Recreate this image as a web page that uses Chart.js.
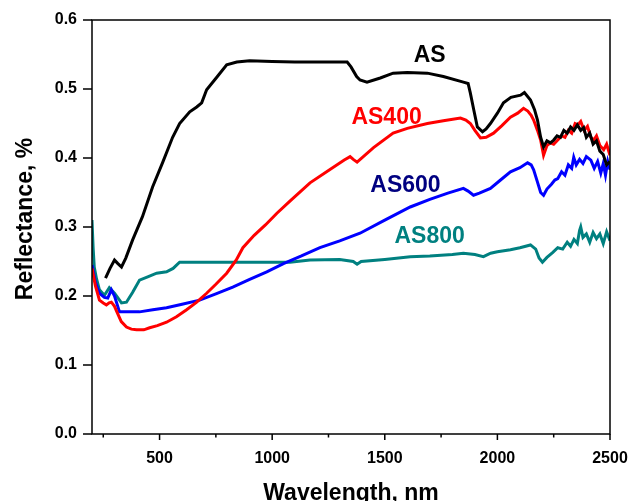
<!DOCTYPE html>
<html>
<head>
<meta charset="utf-8">
<script src="https://cdn.jsdelivr.net/npm/chart.js@4.4.1/dist/chart.umd.min.js"></script>
<style>
  html, body { margin: 0; padding: 0; background: #fff; }
  #wrap { width: 630px; height: 501px; }
</style>
</head>
<body>
<div id="wrap"><canvas id="chart" width="630" height="501"></canvas></div>
<script>
// ======= Data =======
const xTicks = [500, 1000, 1500, 2000, 2500];
const xMinor = [250, 750, 1250, 1750, 2250];
const yTicks = [0, 0.1, 0.2, 0.3, 0.4, 0.5, 0.6];

const asWl  = [260,280,300,315,331,350,380,424,469,513,558,589,634,665,687,709,754,798,843,900,1000,1100,1200,1300,1333,1350,1375,1390,1421,1480,1537,1600,1689,1760,1849,1870,1880,1895,1911,1934,1950,1969,2000,2027,2060,2103,2120,2147,2165,2178,2192,2205,2220,2235,2250,2265,2280,2295,2310,2325,2340,2355,2370,2383,2395,2410,2425,2440,2455,2470,2485,2500];
const asVal = [0.226,0.24,0.252,0.247,0.242,0.255,0.281,0.315,0.358,0.393,0.43,0.45,0.467,0.474,0.48,0.499,0.517,0.535,0.539,0.541,0.540,0.539,0.539,0.539,0.539,0.532,0.518,0.513,0.51,0.516,0.523,0.524,0.523,0.518,0.51,0.508,0.494,0.47,0.445,0.438,0.442,0.45,0.465,0.48,0.488,0.491,0.495,0.484,0.47,0.455,0.43,0.416,0.425,0.422,0.426,0.432,0.43,0.44,0.436,0.445,0.44,0.448,0.44,0.444,0.43,0.436,0.42,0.425,0.41,0.405,0.39,0.395];

const as400Wl  = [200,215,233,250,264,276,286,300,313,330,353,375,398,430,456,490,531,575,620,665,709,750,798,840,870,920,970,1021,1080,1168,1250,1320,1346,1360,1377,1450,1537,1600,1689,1760,1836,1860,1880,1900,1925,1950,1983,2020,2058,2090,2116,2135,2150,2161,2178,2192,2205,2220,2235,2250,2268,2285,2300,2315,2330,2345,2357,2370,2385,2400,2415,2428,2440,2455,2472,2485,2500];
const as400Val = [0.24,0.215,0.194,0.19,0.187,0.19,0.191,0.185,0.175,0.163,0.155,0.152,0.151,0.151,0.154,0.157,0.162,0.17,0.18,0.191,0.204,0.217,0.233,0.252,0.27,0.288,0.303,0.32,0.338,0.364,0.382,0.397,0.402,0.398,0.394,0.415,0.436,0.443,0.45,0.454,0.458,0.455,0.45,0.44,0.429,0.43,0.436,0.447,0.459,0.465,0.472,0.468,0.462,0.455,0.44,0.426,0.404,0.418,0.422,0.42,0.426,0.432,0.43,0.44,0.436,0.45,0.448,0.453,0.44,0.446,0.43,0.426,0.432,0.418,0.412,0.42,0.404];

const as600Wl  = [200,215,233,255,270,286,300,322,360,411,470,531,600,678,750,825,900,976,1050,1130,1212,1300,1390,1500,1613,1700,1780,1849,1870,1894,1920,1969,2010,2058,2100,2134,2150,2161,2178,2192,2205,2220,2240,2255,2268,2285,2300,2315,2330,2339,2350,2365,2380,2395,2415,2430,2445,2459,2470,2480,2490,2500];
const as600Val = [0.245,0.22,0.204,0.198,0.197,0.209,0.2,0.177,0.177,0.177,0.18,0.183,0.188,0.194,0.203,0.213,0.224,0.235,0.247,0.258,0.27,0.28,0.291,0.31,0.329,0.34,0.349,0.356,0.352,0.346,0.349,0.356,0.367,0.38,0.386,0.393,0.39,0.383,0.365,0.35,0.346,0.355,0.362,0.368,0.37,0.38,0.375,0.39,0.385,0.401,0.39,0.398,0.392,0.402,0.397,0.385,0.395,0.378,0.392,0.375,0.395,0.383];

const as800Wl  = [200,205,210,220,233,255,277,300,331,353,380,411,450,487,531,560,589,650,800,1000,1079,1168,1300,1360,1377,1395,1500,1613,1700,1800,1849,1900,1938,1970,2000,2058,2100,2147,2170,2185,2200,2220,2245,2268,2290,2310,2325,2340,2355,2365,2370,2380,2395,2410,2425,2440,2455,2470,2485,2500];
const as800Val = [0.31,0.27,0.242,0.225,0.209,0.201,0.212,0.204,0.19,0.191,0.205,0.223,0.228,0.233,0.235,0.24,0.249,0.249,0.249,0.249,0.249,0.252,0.253,0.25,0.246,0.25,0.253,0.257,0.258,0.26,0.262,0.26,0.257,0.262,0.264,0.267,0.27,0.274,0.268,0.255,0.249,0.256,0.263,0.27,0.268,0.278,0.272,0.282,0.276,0.295,0.3,0.285,0.29,0.278,0.292,0.283,0.29,0.276,0.293,0.28];

// in-plot series labels (centre x in nm, baseline y in reflectance)
const seriesNames  = ["AS", "AS400", "AS600", "AS800"];
const seriesColors = ["#000000", "#ff0000", "#0000ff", "#008080"];
const labelColors  = ["#000000", "#ff0000", "#000080", "#008080"];
const labelAt      = [[1699, 0.539], [1508, 0.449], [1592, 0.351], [1699, 0.277]];

// ======= Helpers =======
const pts = (wl, val) => wl.map((x, i) => ({ x, y: val[i] }));
const FONT = "'Liberation Sans', Arial, sans-serif";

const series = [
  pts(asWl, asVal), pts(as400Wl, as400Val), pts(as600Wl, as600Val), pts(as800Wl, as800Val)
];

// frame, ticks, titles and in-plot labels
const decor = {
  id: "decor",
  afterDraw(chart) {
    const { ctx, chartArea: a, scales: { x, y } } = chart;
    ctx.save();
    ctx.strokeStyle = "#000";
    ctx.lineWidth = 1.5;
    ctx.strokeRect(a.left, a.top, a.right - a.left, a.bottom - a.top);

    ctx.beginPath();
    xTicks.forEach(v => { const px = x.getPixelForValue(v); ctx.moveTo(px, a.bottom); ctx.lineTo(px, a.bottom + 6); });
    xMinor.forEach(v => { const px = x.getPixelForValue(v); ctx.moveTo(px, a.bottom); ctx.lineTo(px, a.bottom + 3.5); });
    yTicks.forEach(v => { const py = y.getPixelForValue(v); ctx.moveTo(a.left, py); ctx.lineTo(a.left - 9, py); });
    ctx.stroke();

    ctx.fillStyle = "#000";
    ctx.font = "bold 23px " + FONT;
    ctx.textAlign = "center";
    ctx.textBaseline = "alphabetic";
    ctx.fillText("Wavelength, nm", 351, 500);
    ctx.save();
    ctx.translate(32, 219);
    ctx.rotate(-Math.PI / 2);
    ctx.fillText("Reflectance, %", 0, 0);
    ctx.restore();

    seriesNames.forEach((name, i) => {
      ctx.fillStyle = labelColors[i];
      ctx.fillText(name, x.getPixelForValue(labelAt[i][0]), y.getPixelForValue(labelAt[i][1]));
    });
    ctx.restore();
  }
};

// ======= Chart =======
new Chart(document.getElementById("chart"), {
  type: "line",
  data: {
    datasets: series.map((d, i) => ({
      label: seriesNames[i],
      data: d,
      borderColor: seriesColors[i],
      borderWidth: 3,
      pointRadius: 0,
      tension: 0,
      fill: false
    }))
  },
  options: {
    responsive: false,
    animation: false,
    layout: { padding: { top: 20, right: 20, left: 0, bottom: 0 } },
    plugins: { legend: { display: false }, tooltip: { enabled: false } },
    scales: {
      x: {
        type: "linear",
        min: 200, max: 2500,
        afterBuildTicks: s => { s.ticks = xTicks.map(v => ({ value: v })); },
        afterFit: s => { s.height = 67; s.paddingLeft = 0; s.paddingRight = 0; },
        grid: { display: false },
        border: { display: false },
        ticks: { color: "#000", font: { family: FONT, size: 16, weight: "bold" }, padding: 7, maxRotation: 0,
                 callback: v => String(v) }
      },
      y: {
        min: 0, max: 0.6,
        afterBuildTicks: s => { s.ticks = yTicks.map(v => ({ value: v })); },
        afterFit: s => { s.width = 92; s.paddingTop = 0; s.paddingBottom = 0; },
        grid: { display: false },
        border: { display: false },
        ticks: { color: "#000", font: { family: FONT, size: 16, weight: "bold" }, padding: 7,
                 callback: v => v.toFixed(1) }
      }
    }
  },
  plugins: [decor]
});
</script>
</body>
</html>
